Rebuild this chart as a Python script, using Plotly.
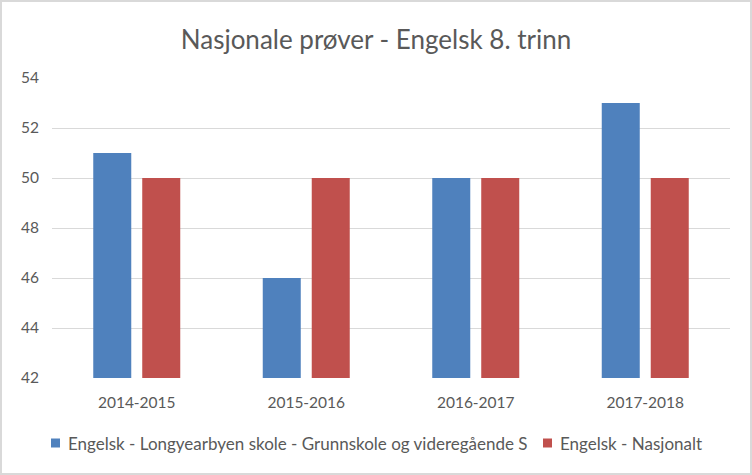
import plotly.graph_objects as go

categories = ["2014-2015", "2015-2016", "2016-2017", "2017-2018"]
series_names = ["Engelsk - Longyearbyen skole - Grunnskole og videregående S", "Engelsk - Nasjonalt"]
longyearbyen = [51, 46, 50, 53]
nasjonalt = [50, 50, 50, 50]
y_ticks = [42, 44, 46, 48, 50, 52, 54]
colors = ["#4F81BD", "#C0504D"]

W, H = 752, 475
L, R, T, B = 52, 22, 78, 97
FONT = "Lato, Open Sans, sans-serif"
TXT = "#595959"

fig = go.Figure()
for name, vals, col in zip(series_names, [longyearbyen, nasjonalt], colors):
    fig.add_trace(go.Bar(x=categories, y=vals, name=name,
                         marker=dict(color=col, line=dict(width=0))))

pw = W - L - R
ph = H - T - B


def px_x(p):
    return (p - L) / pw


def px_y(p):
    return (H - B - p) / ph


# chart border
fig.add_shape(type="rect", xref="paper", yref="paper",
              x0=px_x(1), x1=px_x(W - 1), y0=px_y(H - 1), y1=px_y(1),
              line=dict(color="#D9D9D9", width=2), fillcolor="rgba(0,0,0,0)", layer="below")

# manual legend (single row, as in the reference)
legend_y = 443
legend_marker_x = [51, 543]
for name, col, mx in zip(series_names, colors, legend_marker_x):
    fig.add_shape(type="rect", xref="paper", yref="paper",
                  x0=px_x(mx), x1=px_x(mx + 9), y0=px_y(legend_y + 4.5), y1=px_y(legend_y - 4.5),
                  line=dict(width=0), fillcolor=col)
    fig.add_annotation(text=name, xref="paper", yref="paper", x=px_x(mx + 15), y=px_y(legend_y),
                       xanchor="left", yanchor="middle", showarrow=False,
                       font=dict(family=FONT, size=17, color=TXT))

fig.update_layout(
    width=W, height=H,
    margin=dict(l=L, r=R, t=T, b=B),
    paper_bgcolor="white", plot_bgcolor="white",
    title=dict(text="Nasjonale prøver - Engelsk 8. trinn", x=0.5, xanchor="center",
               y=1 - 40 / H, yanchor="middle",
               font=dict(family=FONT, size=26, color=TXT)),
    barmode="group", bargap=0.422, bargroupgap=0.224,
    font=dict(family=FONT, size=15.5, color=TXT),
    xaxis=dict(showgrid=False, showline=False, ticks="", tickfont=dict(size=15.5, color=TXT),
               ticklabelstandoff=13),
    yaxis=dict(range=[42, 54], tickvals=y_ticks, showgrid=True, gridcolor="#D9D9D9", gridwidth=1,
               zeroline=False, showline=False, ticks="", tickfont=dict(size=15.5, color=TXT),
               ticklabelstandoff=12),
    showlegend=False,
)

fig.write_html("out.html")
